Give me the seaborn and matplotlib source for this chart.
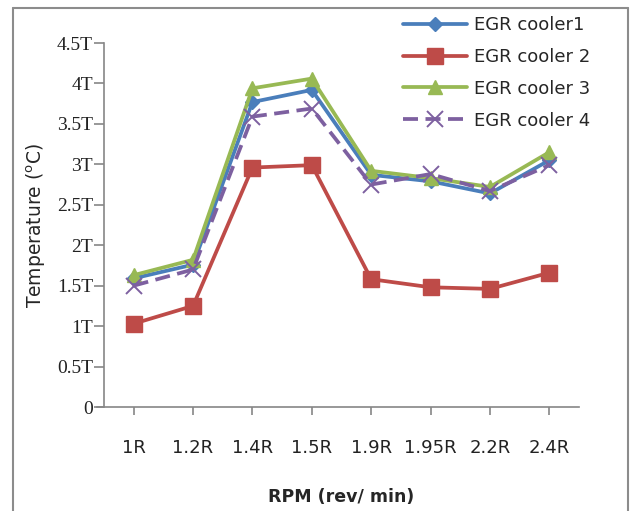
import matplotlib
matplotlib.use("Agg")
import matplotlib.pyplot as plt
import seaborn as sns
import pandas as pd
from matplotlib.lines import Line2D

categories = ["1R", "1.2R", "1.4R", "1.5R", "1.9R", "1.95R", "2.2R", "2.4R"]
cooler1 = [1.59, 1.76, 3.77, 3.92, 2.87, 2.79, 2.64, 3.05]
cooler2 = [1.03, 1.25, 2.96, 2.99, 1.58, 1.48, 1.46, 1.66]
cooler3 = [1.63, 1.82, 3.94, 4.06, 2.92, 2.83, 2.72, 3.15]
cooler4 = [1.50, 1.70, 3.59, 3.69, 2.75, 2.88, 2.67, 2.99]
series_names = ["EGR cooler1", "EGR cooler 2", "EGR cooler 3", "EGR cooler 4"]
yticks = [0, 0.5, 1, 1.5, 2, 2.5, 3, 3.5, 4, 4.5]
ytick_labels = ["0", "0.5T", "1T", "1.5T", "2T", "2.5T", "3T", "3.5T", "4T", "4.5T"]

sns.set_theme(style="white")
plt.rcParams['font.family'] = ['DejaVu Sans']

rows = []
for name, vals in zip(series_names, [cooler1, cooler2, cooler3, cooler4]):
    for i, (c, v) in enumerate(zip(categories, vals)):
        rows.append({"series": name, "idx": i, "rpm": c, "temp": v})
df = pd.DataFrame(rows)

fig = plt.figure(figsize=(6.31, 5.11), dpi=100)
ax = fig.add_axes([104/631, 1-407/511, (579-104)/631, (407-43)/511])

colors = ["#4A7EBB", "#BE4B48", "#98B954", "#7D60A0"]
markers = ["D", "s", "^", "x"]
msizes = [7.5, 12, 10, 12]
for k, name in enumerate(series_names):
    sub = df[df["series"] == name]
    ls = (0, (4, 2)) if k == 3 else "-"
    sns.lineplot(data=sub, x="idx", y="temp", ax=ax, color=colors[k],
                 linewidth=2.7, linestyle=ls, marker=markers[k],
                 markersize=msizes[k], markeredgecolor=colors[k],
                 markeredgewidth=1.4 if k == 3 else 1, label=name,
                 zorder=3 + k)

ax.set_xlim(-0.5, len(categories) - 0.5)
ax.set_ylim(0, 4.5)
ax.set_xticks(range(len(categories)))
ax.set_xticklabels(categories, fontsize=13)
ax.set_yticks(yticks)
ax.set_yticklabels(ytick_labels, fontsize=14, family=['Liberation Serif'])
for s in ["top", "right"]:
    ax.spines[s].set_visible(False)
for s in ["left", "bottom"]:
    ax.spines[s].set_color("#868686")
    ax.spines[s].set_linewidth(1.2)
ax.spines["bottom"].set_bounds(-0.62, len(categories) - 0.5)
ax.tick_params(axis="x", which="both", bottom=True, length=6, width=1.2,
               color="#868686", pad=17, labelcolor="#222222")
ax.tick_params(axis="y", which="both", left=True, length=7, width=1.2,
               color="#868686", pad=1, labelcolor="#222222")

ax.set_xlabel("RPM (rev/ min)", fontsize=12.5, fontweight="bold", labelpad=22)
ax.set_ylabel("Temperature ($^{\\mathrm{o}}$C)", fontsize=13.5, labelpad=6)

leg = ax.legend(loc="upper left", bbox_to_anchor=(403/631, 1 - 16/511),
                bbox_transform=fig.transFigure, frameon=False, fontsize=13,
                handlelength=3.55, labelspacing=0.77, handletextpad=0.4,
                borderaxespad=0, borderpad=0)

# outer chart frame
fc = "#8C8C8C"
fig.add_artist(Line2D([13/631, 13/631], [0, 1-8/511], transform=fig.transFigure, color=fc, lw=1.5))
fig.add_artist(Line2D([13/631, 628/631], [1-8/511, 1-8/511], transform=fig.transFigure, color=fc, lw=1.5))
fig.add_artist(Line2D([628/631, 628/631], [0, 1-8/511], transform=fig.transFigure, color=fc, lw=1.5))

fig.savefig("out.png", dpi=100)
